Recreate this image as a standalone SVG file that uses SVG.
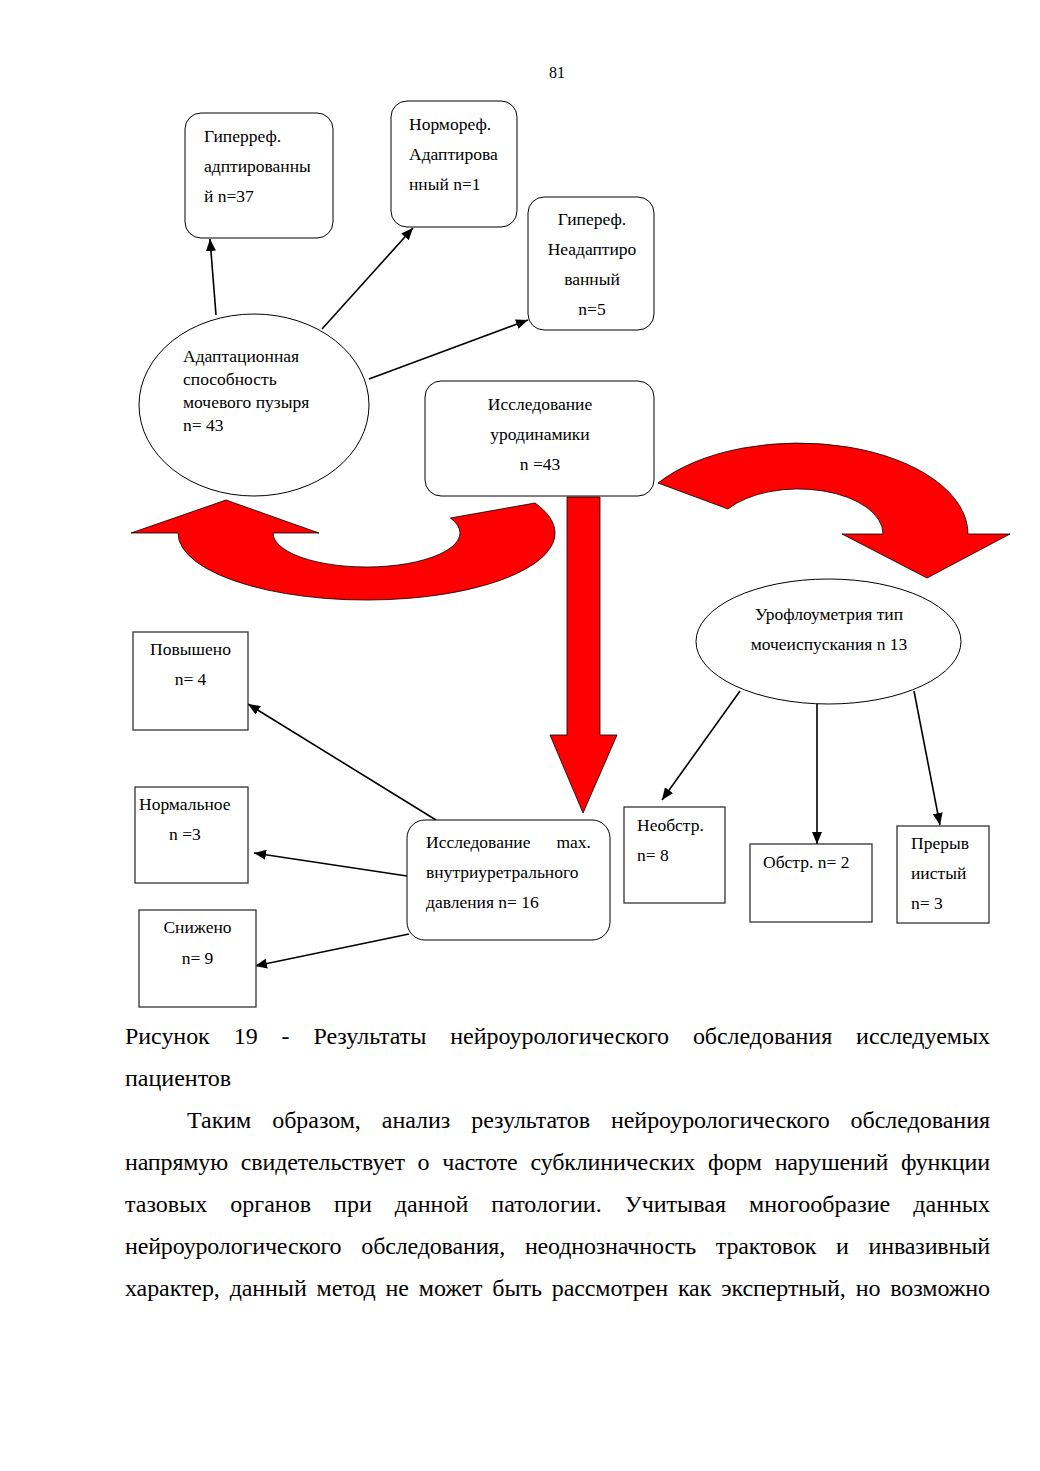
<svg xmlns="http://www.w3.org/2000/svg" width="1040" height="1471" viewBox="0 0 1040 1471">
<style>
text{font-family:"Liberation Serif","Times New Roman",serif;fill:#000}
.t{font-size:17.5px}
.c{text-anchor:middle}
.e{text-anchor:end}
.body{font-size:24px}
.node{fill:#fff;stroke:#000;stroke-width:1}
.sq{fill:#fff;stroke:#333;stroke-width:1.3}
.link{stroke:#000;stroke-width:1.6;fill:none;marker-end:url(#ah)}
.big{fill:#ff0000;stroke:#000;stroke-width:0.8;stroke-linejoin:miter}
</style>
<defs>
<marker id="ah" markerUnits="userSpaceOnUse" markerWidth="12" markerHeight="10" refX="12" refY="5" orient="auto">
<path d="M0,0 L12,5 L0,10 z" fill="#000"/>
</marker>
</defs>
<rect width="1040" height="1471" fill="#fff"/>
<text x="557" y="78" class="c" style="font-size:16px">81</text>

<g id="connectors">
<g id="block-arrows">
<path class="big" d="M131 533 L226 500 L319 533 L273 533 A93.5 34 0 1 0 450.4 518 L535 503 A188.5 67 0 1 1 178 533 Z"/>
<path class="big" d="M658 483 A169.6 91 0 0 1 968 534 L1010 534 L927 578 L842 534 L883 534 A84.6 45 0 0 0 728 509 Z"/>
<path class="big" d="M567 497 L600 497 L600 735 L617 735 L583 813 L550 735 L567 735 Z"/>
</g>
<line class="link" x1="216" y1="315" x2="210" y2="239"/>
<line class="link" x1="322" y1="329" x2="413" y2="228"/>
<line class="link" x1="369" y1="379" x2="528" y2="320"/>
<line class="link" x1="740" y1="691" x2="662" y2="800"/>
<line class="link" x1="817" y1="704" x2="817" y2="844"/>
<line class="link" x1="914" y1="691" x2="940" y2="825"/>
<line class="link" x1="436" y1="820" x2="248" y2="704"/>
<line class="link" x1="407" y1="876" x2="254" y2="853"/>
<line class="link" x1="409" y1="934" x2="255" y2="966"/>
</g>

<g id="n-hyperref-adapt">
<rect class="node" x="185" y="113" width="148" height="125" rx="16"/>
<text class="t" x="204" y="142">Гиперреф.</text>
<text class="t" x="204" y="172">адптированны</text>
<text class="t" x="204" y="202">й n=37</text>
</g>
<g id="n-normoref">
<rect class="node" x="391" y="101" width="126" height="126" rx="16"/>
<text class="t" x="409" y="130">Нормореф.</text>
<text class="t" x="409" y="160">Адаптирова</text>
<text class="t" x="409" y="190">нный n=1</text>
</g>
<g id="n-hyperref-nonadapt">
<rect class="node" x="528" y="197" width="126" height="133" rx="16"/>
<text class="t c" x="592" y="225">Гипереф.</text>
<text class="t c" x="592" y="255">Неадаптиро</text>
<text class="t c" x="592" y="285">ванный</text>
<text class="t c" x="592" y="315">n=5</text>
</g>
<g id="n-adapt">
<ellipse class="node" cx="254" cy="405" rx="115" ry="91"/>
<text class="t" x="183" y="362">Адаптационная</text>
<text class="t" x="183" y="385">способность</text>
<text class="t" x="183" y="408">мочевого пузыря</text>
<text class="t" x="183" y="431">n= 43</text>
</g>
<g id="n-urodyn">
<rect class="node" x="425" y="381" width="229" height="115" rx="16"/>
<text class="t c" x="540" y="410">Исследование</text>
<text class="t c" x="540" y="440">уродинамики</text>
<text class="t c" x="540" y="470">n =43</text>
</g>
<g id="n-uroflow">
<ellipse class="node" cx="828.5" cy="641.5" rx="132.5" ry="62.5"/>
<text class="t c" x="829" y="620">Урофлоуметрия тип</text>
<text class="t c" x="829" y="650">мочеиспускания n 13</text>
</g>
<g id="n-neobstr">
<rect class="sq" x="624" y="807" width="101" height="96"/>
<text class="t" x="637" y="831">Необстр.</text>
<text class="t" x="637" y="861">n= 8</text>
</g>
<g id="n-obstr">
<rect class="sq" x="750" y="844" width="122" height="78"/>
<text class="t" x="763" y="868">Обстр. n= 2</text>
</g>
<g id="n-preryv">
<rect class="sq" x="897" y="826" width="92" height="97"/>
<text class="t" x="911" y="849">Прерыв</text>
<text class="t" x="911" y="879">иистый</text>
<text class="t" x="911" y="909">n= 3</text>
</g>
<g id="n-povysh">
<rect class="sq" x="133" y="632" width="115" height="98"/>
<text class="t c" x="190.5" y="655">Повышено</text>
<text class="t c" x="190.5" y="685">n= 4</text>
</g>
<g id="n-normal">
<rect class="sq" x="135" y="787" width="113" height="96"/>
<text class="t" x="139" y="810">Нормальное</text>
<text class="t" x="169" y="840">n =3</text>
</g>
<g id="n-snizh">
<rect class="sq" x="139" y="910" width="117" height="97"/>
<text class="t c" x="197.5" y="933">Снижено</text>
<text class="t c" x="197.5" y="964">n= 9</text>
</g>
<g id="n-pressure">
<rect class="node" x="407" y="820" width="203" height="120" rx="18"/>
<text class="t" x="426" y="848">Исследование</text>
<text class="t e" x="591" y="848">max.</text>
<text class="t" x="426" y="878">внутриуретрального</text>
<text class="t" x="426" y="908">давления n= 16</text>
</g>

<g id="caption">
<text class="body" x="125" y="1044" word-spacing="18" textLength="865" lengthAdjust="spacing">Рисунок 19 - Результаты нейроурологического обследования исследуемых</text>
<text class="body" x="125" y="1086">пациентов</text>
</g>
<g id="paragraph">
<text class="body" x="187" y="1128" word-spacing="15" textLength="803" lengthAdjust="spacing">Таким образом, анализ результатов нейроурологического обследования</text>
<text class="body" x="125" y="1170" word-spacing="7" textLength="865" lengthAdjust="spacing">напрямую свидетельствует о частоте субклинических форм нарушений функции</text>
<text class="body" x="125" y="1212" word-spacing="17" textLength="865" lengthAdjust="spacing">тазовых органов при данной патологии. Учитывая многообразие данных</text>
<text class="body" x="125" y="1254" word-spacing="14" textLength="865" lengthAdjust="spacing">нейроурологического обследования, неоднозначность трактовок и инвазивный</text>
<text class="body" x="125" y="1296" word-spacing="4" textLength="865" lengthAdjust="spacing">характер, данный метод не может быть рассмотрен как экспертный, но возможно</text>
</g>
</svg>
